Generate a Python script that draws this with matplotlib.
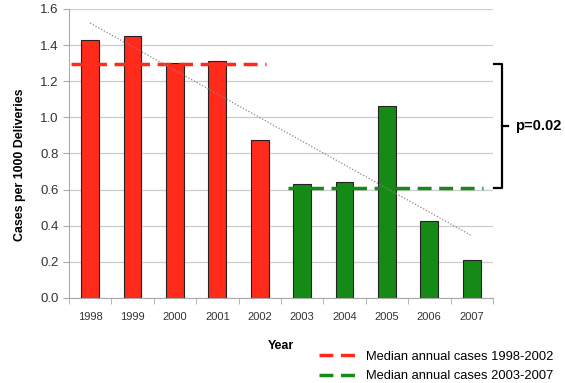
import numpy as np
import matplotlib.pyplot as plt

plt.rcParams['font.family'] = ['Liberation Sans', 'DejaVu Sans']

years = ['1998', '1999', '2000', '2001', '2002', '2003', '2004', '2005', '2006', '2007']
cases = [1.43, 1.45, 1.30, 1.31, 0.875, 0.63, 0.64, 1.063, 0.426, 0.21]
median_early = 1.295
median_late = 0.61
legend_labels = ['Median annual cases 1998-2002', 'Median annual cases 2003-2007']
p_text = 'p=0.02'

red = '#ff2a1a'
green = '#168a16'

fig = plt.figure(figsize=(5.65, 3.83), dpi=100)
ax = fig.add_axes([0.122, 0.222, 0.7504, 0.7546])

x = np.arange(len(years))
colors = [red] * 5 + [green] * 5
ax.bar(x, cases, width=0.42, color=colors, edgecolor='#222222', linewidth=0.8, zorder=2)

# linear trend over all years
k, b = np.polyfit(x, cases, 1)
ax.plot([x[0], x[-1]], [k * x[0] + b, k * x[-1] + b], color='#888888', lw=0.9,
        ls=(0, (1, 1.5)), zorder=4)

# median lines
l1, = ax.plot([-0.45, 4.15], [median_early, median_early], color=red, lw=2.5,
              ls=(0, (4, 2.2)), zorder=3)
l2, = ax.plot([4.67, 9.26], [median_late, median_late], color=green, lw=2.5,
              ls=(0, (4, 2.2)), zorder=3)

# bracket for p value
bx0, bx1 = 9.52, 9.71
ym = (median_early + median_late) / 2
ax.plot([bx0, bx1, bx1, bx0], [median_early, median_early, median_late, median_late],
        color='black', lw=1.6, clip_on=False)
ax.plot([bx1, 9.86], [ym, ym], color='black', lw=1.6, clip_on=False)
ax.text(10.02, ym, p_text, fontsize=10.5, fontweight='bold', va='center', ha='left')

ax.set_xlim(-0.5, 9.5)
ax.set_ylim(0, 1.6)
ax.set_yticks(np.arange(0, 1.61, 0.2))
ax.set_yticklabels(['%.1f' % v for v in np.arange(0, 1.61, 0.2)])
ax.set_xticks(x)
ax.set_xticklabels(years)
ax.set_xticks(np.arange(-0.5, 9.6, 1), minor=True)
ax.tick_params(axis='x', which='major', length=0, labelsize=8, colors='#333333', pad=10)
ax.tick_params(axis='x', which='minor', length=4, color='#aaaaaa', direction='out')
ax.tick_params(axis='y', length=4, color='#aaaaaa', labelsize=9.5, labelcolor='#333333')

ax.grid(axis='y', color='#cccccc', lw=0.9, zorder=0)
ax.set_axisbelow(True)
for s in ['top', 'right']:
    ax.spines[s].set_visible(False)
for s in ['left', 'bottom']:
    ax.spines[s].set_color('#aaaaaa')

ax.set_xlabel('Year', fontsize=9, fontweight='bold', labelpad=13)
ax.set_ylabel('Cases per 1000 Deliveries', fontsize=8.9, fontweight='bold')
ax.yaxis.set_label_coords(-0.102, 0.46)

fig.legend([l1, l2], legend_labels, loc='lower right', bbox_to_anchor=(0.995, -0.022),
           frameon=False, fontsize=9.3, handlelength=3.0, handletextpad=0.6,
           labelspacing=0.6, borderaxespad=0.3)

fig.savefig('out.png', dpi=100)
